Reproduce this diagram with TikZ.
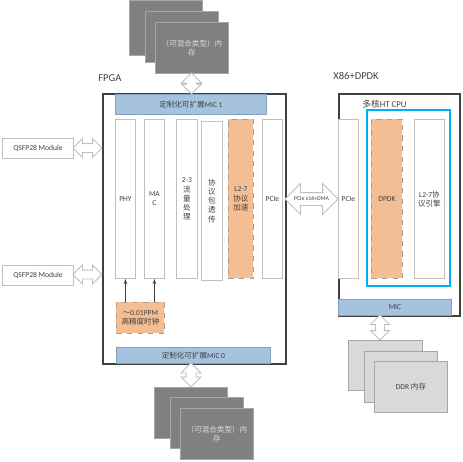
\documentclass[tikz,border=0pt]{standalone}
\usepackage{fontspec}
\setmainfont{Carlito}
\newfontfamily\cjk{Noto Sans CJK SC}
\usetikzlibrary{shapes.arrows, arrows.meta}
\newcommand\zh[1]{{\cjk #1}}
\definecolor{txt}{RGB}{64,64,64}
\definecolor{frame}{RGB}{64,64,64}
\definecolor{coledge}{RGB}{191,191,191}
\definecolor{arredge}{RGB}{191,191,191}
\definecolor{micblue}{RGB}{165,194,222}
\definecolor{micedge}{RGB}{135,160,190}
\definecolor{accelfill}{RGB}{244,190,148}
\definecolor{acceledge}{RGB}{175,155,140}
\definecolor{cpucyan}{RGB}{0,176,240}
\definecolor{memfill}{RGB}{128,128,128}
\definecolor{memedge}{RGB}{166,166,166}
\definecolor{memtext}{RGB}{222,222,222}
\definecolor{ddrfill}{RGB}{217,217,217}
\definecolor{ddredge}{RGB}{166,166,166}

\begin{document}
\begin{tikzpicture}[x=0.2mm, y=-0.2mm,
    every node/.style={text=txt, font=\fontsize{4.3}{5.2}\selectfont, inner sep=0pt},
    blk/.style={anchor=north west, align=center},
    col/.style={blk, draw=coledge, fill=white, line width=0.5pt, minimum height=31.8mm},
    accel/.style={col, fill=accelfill, draw=acceledge, dashed},
    mic/.style={blk, draw=micedge, fill=micblue, line width=0.5pt},
    memdark/.style={blk, draw=memedge, fill=memfill, text=memtext, line width=0.5pt, minimum width=14.6mm, minimum height=10.2mm},
    memddr/.style={memdark, draw=ddredge, fill=ddrfill, text=txt},
    outer/.style={blk, draw=frame, line width=1pt},
    biglabel/.style={anchor=west, font=\fontsize{6}{7}\selectfont},
    module/.style={blk, draw=coledge, fill=white, line width=0.5pt, minimum width=14.2mm, minimum height=4mm},
    blockarrow/.style={double arrow, draw=arredge, fill=white, line width=0.5pt, inner ysep=0.8mm, double arrow head extend=1mm},
    tick/.style={-{Stealth[length=3pt, width=2pt]}, draw=txt, line width=0.5pt}]
  \useasboundingbox (0,0) rectangle (463,461);

  \node[memdark, minimum height=11mm] (memtopc) at (129,0) {};
  \node[memdark] (memtopb) at (145,11) {};
  \node[memdark] (memtopa) at (155,22) {\zh{（可混合类型）内}\\\zh{存}};

  \node[biglabel] (fpgalabel) at (98,78) {FPGA};
  \node[outer, minimum width=36.6mm, minimum height=54mm] (fpga) at (102,93) {};
  \node[mic, minimum width=30.2mm, minimum height=4mm] (mic1) at (115,94) {\zh{定制化可扩展}MIC 1};
  \node[blockarrow, rotate=90, minimum height=4.2mm, inner ysep=0.9mm] (memtoparr) at (191.5,83.5) {};

  \node[col, minimum width=4mm] (phy) at (115,119) {PHY};
  \node[col, minimum width=4mm] (mac) at (144,119) {MA\\C};
  \node[col, minimum width=4.2mm] (flow) at (176,119) {2-3\\\zh{流}\\\zh{量}\\\zh{处}\\\zh{理}};
  \node[col, minimum width=4.2mm] (pass) at (201,121) {\zh{协}\\\zh{议}\\\zh{包}\\\zh{透}\\\zh{传}};
  \node[accel, minimum width=5mm] (l27) at (228,119) {L2-7\\\zh{协议}\\\zh{加速}};
  \node[col, minimum width=4mm] (pcie) at (262,119) {PCIe};

  \node[accel, minimum width=9.6mm, minimum height=6.2mm] (clock) at (116,302) {\zh{～}0.01PPM\\\zh{高精度时钟}};
  \draw[tick] (clock.north -| phy.south) -- (phy.south);
  \draw[tick] (clock.north -| mac.south) -- (mac.south);

  \node[mic, minimum width=30.8mm, minimum height=3.2mm] (mic0) at (116,347) {\zh{定制化可扩展}MIC 0};
  \node[blockarrow, rotate=90, minimum height=4.8mm, inner ysep=0.9mm] (membotarr) at (191,375) {};
  \node[memdark] (membotc) at (154,387) {};
  \node[memdark] (membotb) at (170,397) {};
  \node[memdark] (membota) at (180,408) {\zh{（可混合类型）内}\\\zh{存}};

  \node[module] (qsfpa) at (2,138) {QSFP28 Module};
  \node[module] (qsfpb) at (2,265) {QSFP28 Module};
  \node[blockarrow, minimum height=5.8mm] (qsfpaarr) at (87.5,148) {};
  \node[blockarrow, minimum height=5.8mm] (qsfpbarr) at (87.5,274.5) {};

  \node[blockarrow, minimum height=10.6mm, inner ysep=1.2mm, double arrow head extend=1.8mm] (pciearr) at (311.5,199) {};
  \node[font=\fontsize{3.3}{4}\selectfont] (pcielabel) at (pciearr) {PCIe x16+DMA};

  \node[biglabel] (x86label) at (333,76) {X86+DPDK};
  \node[outer, minimum width=24.2mm, minimum height=44.4mm] (x86) at (338,93) {};
  \node[anchor=west, font=\fontsize{5}{6}\selectfont] (cpulabel) at (362,104) {\zh{多核}HT CPU};
  \node[blk, draw=cpucyan, line width=1pt, minimum width=16.6mm, minimum height=35.2mm] (cpu) at (366,109) {};
  \node[col, minimum width=4mm] (hostpcie) at (338,119) {PCIe};
  \node[accel, minimum width=6.2mm] (dpdk) at (371,119) {DPDK};
  \node[col, minimum width=6mm] (engine) at (414,119) {L2-7\zh{协}\\\zh{议引擎}};
  \node[mic, minimum width=22.6mm, minimum height=3.2mm] (hostmic) at (338,299) {MIC};
  \node[blockarrow, rotate=90, minimum height=5mm] (ddrarr) at (380,327.5) {};
  \node[memddr, minimum width=14.8mm, minimum height=10mm] (ddrc) at (348,340) {};
  \node[memddr] (ddrb) at (364,351) {};
  \node[memddr] (ddra) at (374,361) {DDR \zh{内存}};
\end{tikzpicture}
\end{document}
